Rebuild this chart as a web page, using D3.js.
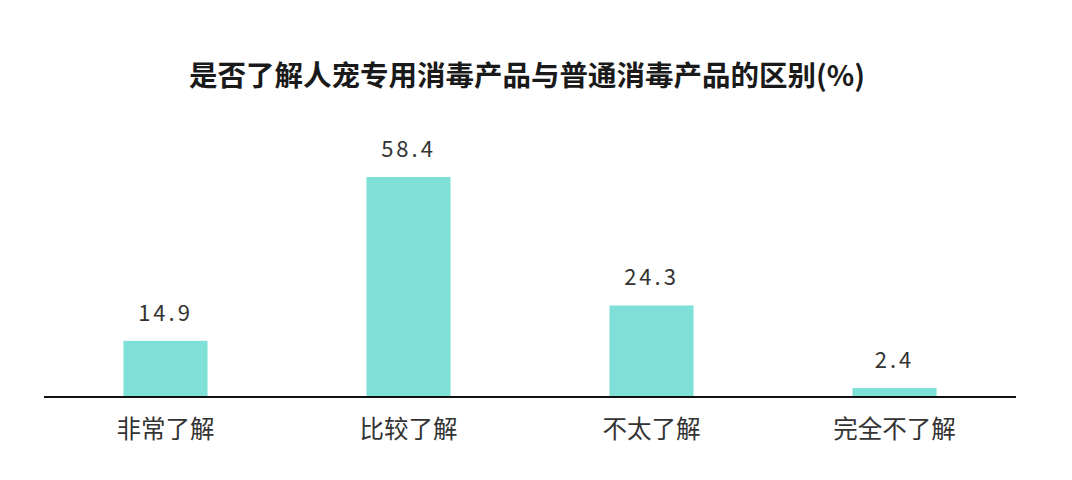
<!DOCTYPE html>
<html>
<head>
<meta charset="utf-8">
<script src="https://cdn.jsdelivr.net/npm/d3@7"></script>
<style>
  body { margin: 0; background: #fff; }
  svg { display: block; font-family: "Noto Sans CJK SC", "Noto Sans", sans-serif; }
</style>
</head>
<body>
<script>
// data
const categories = ["非常了解", "比较了解", "不太了解", "完全不了解"];
const values = [14.9, 58.4, 24.3, 2.4];
const title = "是否了解人宠专用消毒产品与普通消毒产品的区别(%)";

const width = 1072, height = 480;
const margin = { top: 100, right: 56, bottom: 83, left: 44 };
const baseline = height - margin.bottom;

const svg = d3.select("body").append("svg")
  .attr("width", width)
  .attr("height", height);

// title
svg.append("text")
  .attr("x", 527)
  .attr("y", 86)
  .attr("text-anchor", "middle")
  .style("font-size", "28.5px")
  .style("font-weight", "bold")
  .style("fill", "#1a1a1a")
  .text(title);

// x scale
var x = d3.scaleBand()
  .domain(categories)
  .range([margin.left, width - margin.right])
  .paddingInner(0.654)
  .paddingOuter(0.327);

// y scale: 58.4 -> top at 177
var y = d3.scaleLinear()
  .domain([0, 58.4])
  .range([baseline, 177]);

// bars
svg.append("g")
  .selectAll("rect")
  .data(values)
  .enter()
  .append("rect")
  .attr("x", (d, i) => x(categories[i]))
  .attr("y", d => y(d))
  .attr("width", x.bandwidth())
  .attr("height", d => baseline - y(d))
  .style("fill", "#7fe0d7");

// value labels
svg.append("g")
  .selectAll("text")
  .data(values)
  .enter()
  .append("text")
  .attr("x", (d, i) => x(categories[i]) + x.bandwidth() / 2)
  .attr("y", d => y(d) - 20)
  .attr("text-anchor", "middle")
  .style("font-size", "22px")
  .style("letter-spacing", "3px")
  .style("fill", "#333")
  .text(d => d.toFixed(1));

// x axis
var axis = svg.append("g")
  .attr("transform", "translate(0," + baseline + ")")
  .call(d3.axisBottom(x).tickSize(0).tickPadding(24));
axis.select(".domain")
  .attr("stroke", "#111")
  .attr("stroke-width", 2)
  .attr("d", "M" + margin.left + ",0H" + (width - margin.right));
axis.selectAll("text")
  .style("font-size", "24.5px")
  .style("font-family", "\"Noto Sans CJK SC\", sans-serif")
  .style("fill", "#333");
</script>
</body>
</html>
